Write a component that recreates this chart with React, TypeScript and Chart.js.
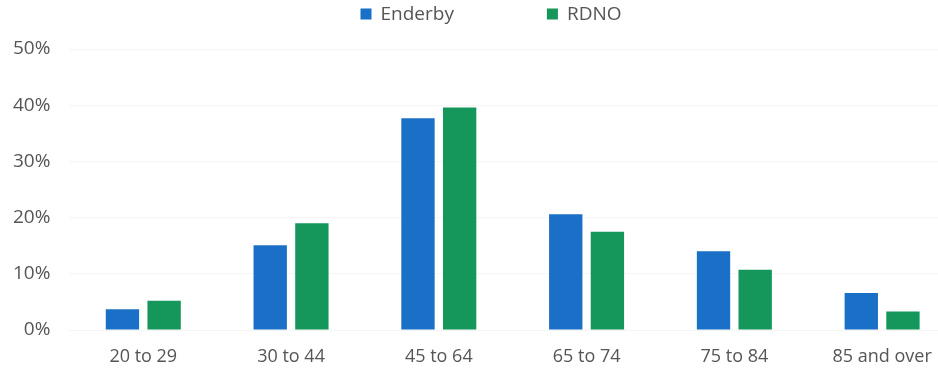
import React, { useEffect, useRef } from "react";
import { Chart, registerables } from "chart.js";

Chart.register(...registerables);

// Age groups and share of population (%)
const ageGroups = ["20 to 29", "30 to 44", "45 to 64", "65 to 74", "75 to 84", "85 and over"];
const enderby = [3.7, 15.1, 37.7, 20.6, 14.0, 6.6];
const rdno = [5.2, 19.0, 39.6, 17.5, 10.7, 3.3];
const yTicks = [0, 10, 20, 30, 40, 50];

const BLUE = "#1a6fc6";
const GREEN = "#15965a";
const TEXT = "#555555";
const FONT = "'Open Sans', 'Noto Sans', sans-serif";

// Legend drawn on the canvas above the plot
const legendPlugin = {
  id: "topLegend",
  afterDraw(chart: Chart) {
    const ctx = chart.ctx;
    const items = chart.data.datasets.map((d) => ({
      label: d.label as string,
      color: d.backgroundColor as string,
    }));
    ctx.save();
    ctx.font = `19px ${FONT}`;
    ctx.textBaseline = "alphabetic";
    ctx.textAlign = "left";
    const box = 11;
    const boxGap = 9;
    const itemGap = 93;
    const widths = items.map((it) => box + boxGap + ctx.measureText(it.label).width);
    const total = widths.reduce((a, b) => a + b, 0) + itemGap * (items.length - 1);
    let x = chart.width / 2 + 13 - total / 2;
    const baseline = 20;
    items.forEach((it, i) => {
      ctx.fillStyle = it.color;
      ctx.fillRect(x, baseline - 11.5, box, box);
      ctx.fillStyle = TEXT;
      ctx.fillText(it.label, x + box + boxGap, baseline);
      x += widths[i] + itemGap;
    });
    ctx.restore();
  },
};

export default function App() {
  const canvasRef = useRef<HTMLCanvasElement | null>(null);

  useEffect(() => {
    const canvas = canvasRef.current;
    if (!canvas) return;
    const chart = new Chart(canvas, {
      type: "bar",
      data: {
        labels: ageGroups,
        datasets: [
          {
            label: "Enderby",
            data: enderby,
            backgroundColor: BLUE,
            barPercentage: 0.8,
            categoryPercentage: 0.564,
          },
          {
            label: "RDNO",
            data: rdno,
            backgroundColor: GREEN,
            barPercentage: 0.8,
            categoryPercentage: 0.564,
          },
        ],
      },
      options: {
        responsive: false,
        animation: false,
        layout: { padding: { top: 49, left: 0, right: 0, bottom: 0 } },
        plugins: {
          legend: { display: false },
          tooltip: { enabled: false },
        },
        scales: {
          x: {
            grid: { display: false, drawTicks: false },
            border: { display: false },
            ticks: {
              color: TEXT,
              font: { family: FONT, size: 18 },
              padding: 16,
              maxRotation: 0,
              autoSkip: false,
            },
            afterFit(scale: any) {
              scale.height = 42;
            },
          },
          y: {
            min: 0,
            max: 50,
            grid: { color: "rgba(0,0,0,0.04)", drawTicks: false },
            border: { display: false },
            afterBuildTicks(scale: any) {
              scale.ticks = yTicks.map((v) => ({ value: v }));
            },
            ticks: {
              color: TEXT,
              font: { family: FONT, size: 19 },
              padding: 19,
              callback: (v: any) => `${v}%`,
            },
            afterFit(scale: any) {
              scale.width = 69.4;
            },
          },
        },
      },
      plugins: [legendPlugin],
    });
    return () => chart.destroy();
  }, []);

  return (
    <div
      style={{
        position: "fixed",
        left: 0,
        top: 0,
        width: 938,
        height: 372,
        overflow: "hidden",
        background: "#ffffff",
      }}
    >
      <canvas ref={canvasRef} width={956} height={372} style={{ display: "block" }} />
    </div>
  );
}
